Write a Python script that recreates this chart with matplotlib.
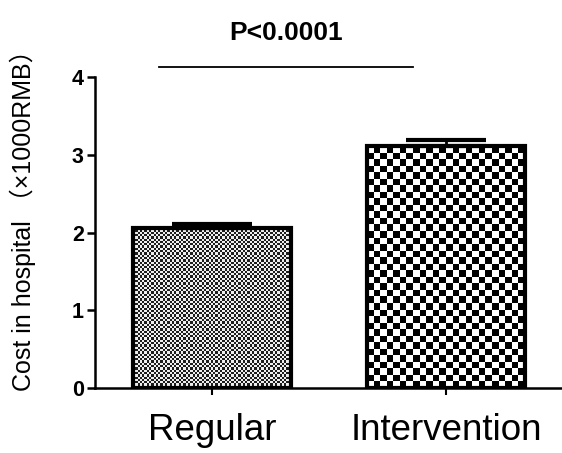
import matplotlib
matplotlib.use('Agg')
import matplotlib.pyplot as plt
import numpy as np

plt.rcParams['font.family'] = ['Liberation Sans', 'Noto Sans CJK SC']

# data
groups = ['Regular', 'Intervention']
means = [2.06, 3.11]
errs = [0.05, 0.08]
yticks = [0, 1, 2, 3, 4]
p_text = 'P<0.0001'

fig = plt.figure(figsize=(5.62, 4.53), dpi=100)
ax = fig.add_axes([0.169, 0.1435, 0.8327, 0.6865])

x = np.arange(len(groups))
bars = ax.bar(x, means, width=0.675, facecolor='none', edgecolor='black',
              linewidth=3, zorder=3)
ax.errorbar(x, means, yerr=[np.zeros(len(errs)), errs], fmt='none',
            ecolor='black', elinewidth=2, capsize=29, capthick=3, zorder=4)

ax.set_xlim(-0.5, 1.5)
ax.set_ylim(0, 4)
ax.set_yticks(yticks)
ax.set_xticks(x)
ax.set_xticklabels(groups, fontsize=26.5)
for lab in ax.get_yticklabels():
    lab.set_fontweight('bold')
    lab.set_fontsize(15.5)

ax.spines['top'].set_visible(False)
ax.spines['right'].set_visible(False)
ax.spines['left'].set_linewidth(1.8)
ax.spines['bottom'].set_linewidth(1.8)
ax.tick_params(axis='y', length=6, width=1.8, pad=2)
ax.tick_params(axis='x', length=5, width=1.5, pad=13)

ylab = ax.set_ylabel('Cost in hospital （×1000RMB）', fontsize=15)
fig.canvas.draw()
# size the label so it spans roughly the same height as the reference
h = ylab.get_window_extent().height
ylab.set_fontsize(15 * 355 / h)
ax.yaxis.set_label_coords(-0.125, 0.56)

# significance bar
ax.plot([-0.226, 0.859], [4.13, 4.13], color='black', lw=1.3, clip_on=False)
ax.text(0.316, 4.48, p_text, ha='center', va='baseline', fontsize=19,
        fontweight='bold')

# checker textures inside the bars
fig.canvas.draw()
cells = [2.3, 6.5]
colors = [('#1c1c1c', '#eeeeee'), ('#000000', '#ffffff')]
for b, cell, (c1, c2) in zip(bars, cells, colors):
    x0, y0 = b.get_x(), 0
    x1, y1 = b.get_x() + b.get_width(), b.get_height()
    p0 = ax.transData.transform((x0, y0))
    p1 = ax.transData.transform((x1, y1))
    nc = max(1, int(round((p1[0] - p0[0]) / cell)))
    nr = max(1, int(round((p1[1] - p0[1]) / cell)))
    ii, jj = np.indices((nr, nc))
    chk = (ii + jj) % 2
    cmap = matplotlib.colors.ListedColormap([c2, c1])
    im = ax.imshow(chk, cmap=cmap, extent=[x0, x1, y0, y1], aspect='auto',
                   interpolation='nearest', zorder=2, origin='lower')
    im.set_clip_path(b)

ax.set_xlim(-0.5, 1.5)
ax.set_ylim(0, 4)

fig.savefig('out.png', dpi=100)
